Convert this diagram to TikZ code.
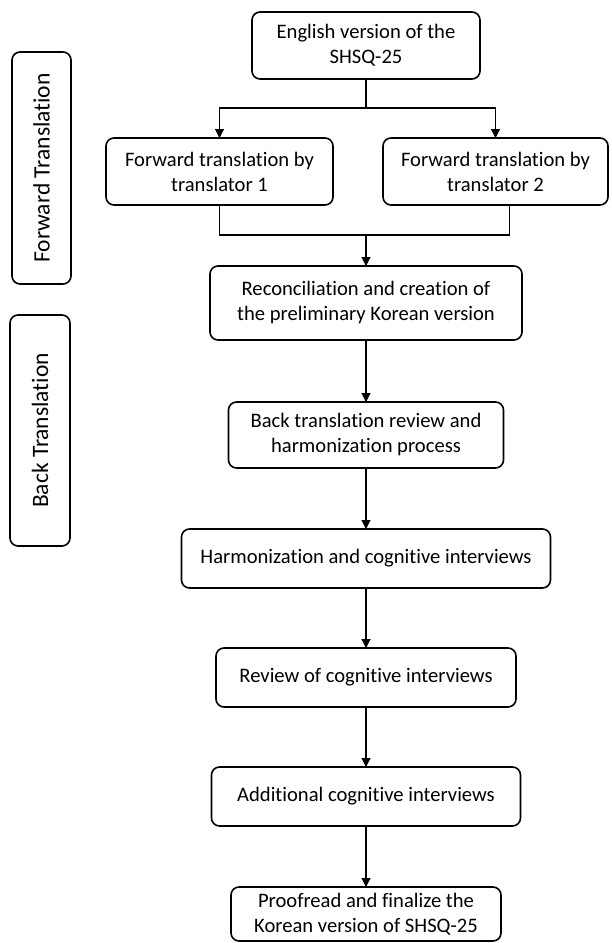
\documentclass[tikz,border=0pt]{standalone}
\usepackage{fontspec}
\setmainfont{Carlito}[Ligatures=NoCommon]
\usetikzlibrary{positioning,arrows.meta}

\begin{document}
\begin{tikzpicture}[
		x=1pt, y=1pt,
		node distance=60pt,
		stepbox/.style={rectangle, rounded corners=8pt, draw=black, line width=1.6pt, outer sep=0pt, align=center, inner sep=2pt, font=\fontsize{20.6}{25}\selectfont},
		phase/.style={rectangle, rounded corners=8pt, draw=black, line width=1.6pt, rotate=90, inner sep=2pt, font=\fontsize{23.5}{26}\selectfont},
		link/.style={draw=black, line width=1.1pt},
		arrow/.style={draw=black, line width=1.1pt, -{Triangle[length=9pt,width=9pt]}},
		]
		\useasboundingbox (0,0) rectangle (611,-943);

		%Phases
		\node[phase, minimum width=232pt, minimum height=59pt]	(fwd_phase)	at (41.5,-168)	{Forward Translation};
		\node[phase, minimum width=231pt, minimum height=60pt]	(back_phase)	at (40,-430.5)	{Back Translation};

		%Forward translation
		\node[stepbox, minimum width=228pt, minimum height=67pt]	(english)	at (366,-45.5)	{English version of the\\SHSQ-25};
		\node[stepbox, minimum width=227pt, minimum height=67pt]	(ft_one)	[below=59pt of english, xshift=-146.5pt]	{Forward translation by\\translator 1};
		\node[stepbox, minimum width=225pt, minimum height=67pt]	(ft_two)	[below=59pt of english, xshift=129.5pt]	{Forward translation by\\translator 2};
		\coordinate	(ft_row)	at (english |- ft_one.south);
		\node[stepbox, minimum width=312pt, minimum height=74pt]	(recon)	[below=61pt of ft_row]	{Reconciliation and creation of\\the preliminary Korean version};

		%Back translation
		\node[stepbox, minimum width=275pt, minimum height=66pt]	(back)	[below=62pt of recon]	{Back translation review and\\harmonization process};
		\node[stepbox, minimum width=369pt, minimum height=59pt]	(harm)	[below=61pt of back]	{Harmonization and cognitive interviews};
		\node[stepbox, minimum width=300pt, minimum height=59pt]	(review)	[below=of harm]	{Review of cognitive interviews};
		\node[stepbox, minimum width=309pt, minimum height=59pt]	(additional)	[below=of review]	{Additional cognitive interviews};
		\node[stepbox, minimum width=270pt, minimum height=54pt]	(proofread)	[below=61pt of additional]	{Proofread and finalize the\\Korean version of SHSQ-25};

		%Split and merge
		\coordinate[below=29pt of english]	(split);
		\coordinate[above=31pt of recon]	(merge);
		\draw[link]	(english)	--	(split);
		\draw[arrow]	(split)	-|	(ft_one);
		\draw[arrow]	(split)	-|	(ft_two);
		\draw[link]	(ft_one)	|-	(merge);
		\draw[link]	([xshift=14pt]ft_two.south)	|-	(merge);
		\draw[arrow]	(merge)	--	(recon);

		%Main Lines
		\draw[arrow]	(recon)	--	(back);
		\draw[arrow]	(back)	--	(harm);
		\draw[arrow]	(harm)	--	(review);
		\draw[arrow]	(review)	--	(additional);
		\draw[arrow]	(additional)	--	(proofread);
	\end{tikzpicture}
\end{document}
